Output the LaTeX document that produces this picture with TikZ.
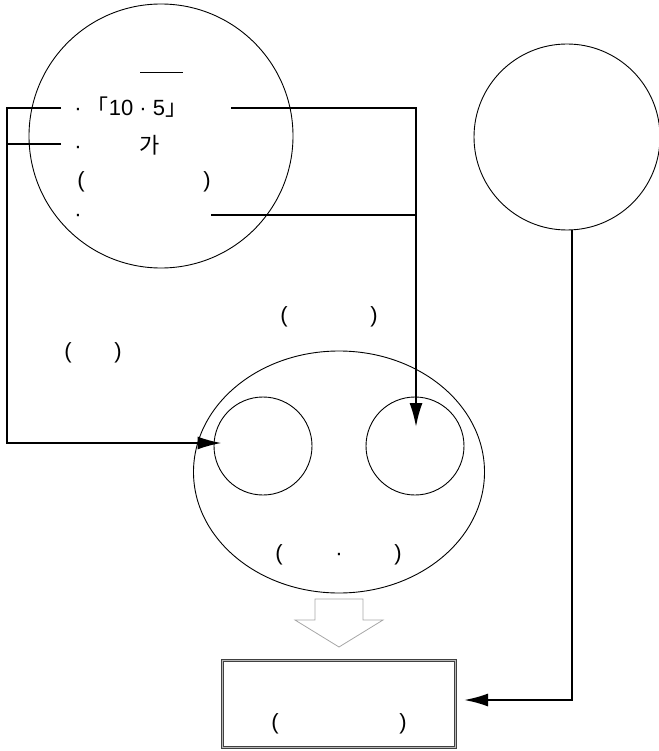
\documentclass[tikz,border=0pt]{standalone}
\usepackage{fontspec}
\setmainfont{Liberation Sans}
\newfontfamily\kr{Noto Sans CJK KR}
\usetikzlibrary{shapes.geometric,arrows.meta}

\tikzset{
  ring/.style={draw, circle, line width=0.9pt, inner sep=0pt},
  conn/.style={line width=2pt},
  arr/.style={conn, -{Latex[length=24pt,width=13pt]}},
  lbl/.style={inner sep=0pt, anchor=base, font=\fontsize{22}{26}\selectfont}
}

\begin{document}
\begin{tikzpicture}[x=1pt, y=-1pt]
            \useasboundingbox (0,0) rectangle (658,751);

            % shapes
            \node[ring, minimum size=264pt] (src) at (161,136) {};
            \node[ring, minimum size=186pt] (aux) at (567,137) {};
            \node[draw, ellipse, line width=0.9pt, inner sep=0pt,
                  minimum width=291pt, minimum height=242pt] (hub) at (339,472) {};
            \node[ring, minimum size=98pt] (inL) at (263,446) {};
            \node[ring, minimum size=98pt] (inR) at (415,446) {};
            \node[draw=black!75, double=gray!55, double distance=1pt, line width=1pt,
                  minimum width=233pt, minimum height=87pt, inner sep=0pt] (res) at (339,704) {};

            % texts in the big circle
            \draw[line width=0.9pt] (140,72) -- (183,72);
            \node[lbl] (d1) at (78,116) {·};
            \node[lbl] (t1) at (137,116) {{\kr 「}10 · 5{\kr 」}};
            \node[lbl] (d2) at (78,154) {·};
            \node[lbl] (t2) at (150,154) {\kr 가};
            \node[lbl] (p1) at (81,188) {(};
            \node[lbl] (p2) at (207,188) {)};
            \node[lbl] (d3) at (78,222) {·};

            % loose texts
            \node[lbl] (p3) at (284,322) {(};
            \node[lbl] (p4) at (374,322) {)};
            \node[lbl] (p5) at (68,358) {(};
            \node[lbl] (p6) at (118,358) {)};
            \node[lbl] (p7) at (279,560) {(};
            \node[lbl] (d4) at (339,560) {·};
            \node[lbl] (p8) at (398,560) {)};
            \node[lbl] (p9) at (275,729) {(};
            \node[lbl] (p10) at (403,729) {)};

            % hollow arrow
            \draw[gray!70, line width=0.8pt] (315,599) -- (363,599) -- (363,620) -- (383,620)
                -- (339,647) -- (295,620) -- (315,620) -- cycle;

            % connectors
            \coordinate (l1) at (61,108);
            \coordinate (l2) at (61,144);
            \coordinate (lc) at (7,443);
            \coordinate (r1) at (231,108);
            \coordinate (r2) at (211,215);
            \coordinate (rc) at (416,427);

            \draw[arr] (l1) -| (lc) -- ([xshift=8pt]inL.west |- lc);
            \draw[conn] (l2) -- (l2 -| lc);
            \draw[arr] (r1) -| (rc);
            \draw[conn] (r2) -- (r2 -| rc);
            \draw[arr, shorten >=8pt] ([xshift=5pt]aux.south) |- ([yshift=4pt]res.east);
        \end{tikzpicture}
\end{document}
